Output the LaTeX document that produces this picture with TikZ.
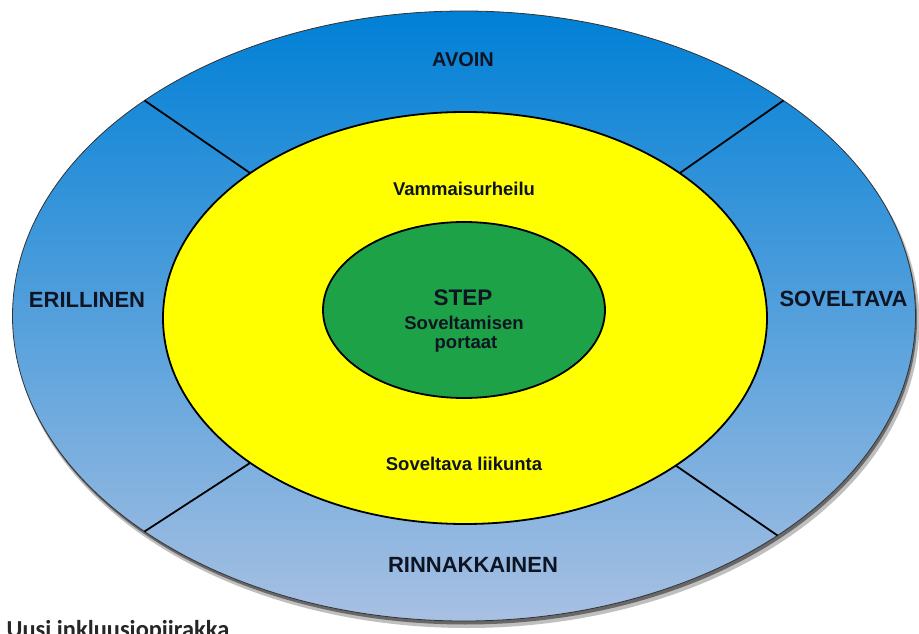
\documentclass[tikz,border=0pt]{standalone}
\usepackage{fontspec}
\setmainfont{Liberation Sans}
\newfontfamily\captionfont{Carlito}
\usetikzlibrary{shapes.geometric}

\definecolor{ringtop}{RGB}{0,128,214}
\definecolor{ringmid}{RGB}{72,152,222}
\definecolor{ringbot}{RGB}{168,192,226}
\definecolor{coreyellow}{RGB}{255,255,0}
\definecolor{stepgreen}{RGB}{30,162,72}
\definecolor{labeltext}{RGB}{15,20,35}

\tikzset{
  zone/.style={ellipse, inner sep=0pt, outer sep=0pt},
  ringlabel/.style={font=\fontsize{22}{26}\selectfont\bfseries, text=labeltext},
  innerlabel/.style={font=\fontsize{18.5}{22}\selectfont\bfseries, text=labeltext, anchor=base},
  divider/.style={line width=1.8pt}
}

\begin{document}
\begin{tikzpicture}[x=1pt, y=1pt]
\useasboundingbox (0,0) rectangle (919,633);
\clip (0,0) rectangle (919,633);
\fill[white] (0,0) rectangle (919,633);

% varjo
\fill[black, opacity=0.25] (467,311) ellipse (452.5 and 306);
\fill[black, opacity=0.45] (465.5,313.5) ellipse (451.5 and 305);

% renkaat
\node[zone, minimum width=903, minimum height=610, draw=black!80, line width=0.8pt,
      top color=ringtop, middle color=ringmid, bottom color=ringbot] (outer) at (464,317) {};
\node[zone, minimum width=604, minimum height=412, draw, line width=1.8pt, fill=coreyellow] (yellow) at (465,315) {};
\node[zone, minimum width=282, minimum height=176, draw, line width=1.8pt, fill=stepgreen] (green) at (464,323) {};

% jakoviivat
\draw[divider] (yellow.146) -- (outer.146);
\draw[divider] (yellow.34.5) -- (outer.34.5);
\draw[divider] (yellow.214.5) -- (outer.214.5);
\draw[divider] (yellow.325.5) -- (outer.325.5);

% ulkorengas
\node[ringlabel, font=\fontsize{20}{24}\selectfont\bfseries] (avoin) at (463,573) {AVOIN};
\node[ringlabel] (erillinen) at (87,333.5) {ERILLINEN};
\node[ringlabel] (soveltava) at (843.5,334) {SOVELTAVA};
\node[ringlabel] (rinnakkainen) at (473,68) {RINNAKKAINEN};

% keltainen
\node[innerlabel] (vammais) at (464,437.5) {Vammaisurheilu};
\node[innerlabel] (liikunta) at (464,163) {Soveltava liikunta};

% vihreä
\node[innerlabel, font=\fontsize{22.5}{26}\selectfont\bfseries] (steplbl) at (463,327) {STEP};
\node[innerlabel] (sovelt) at (464,303) {Soveltamisen};
\node[innerlabel] (portaat) at (466,284) {portaat};

\node[anchor=base west, inner sep=0pt, text=black!85,
      font=\captionfont\bfseries\fontsize{24.4}{29}\selectfont] (caption) at (6.5,-4.2) {Uusi inkluusiopiirakka};
\end{tikzpicture}
\end{document}
